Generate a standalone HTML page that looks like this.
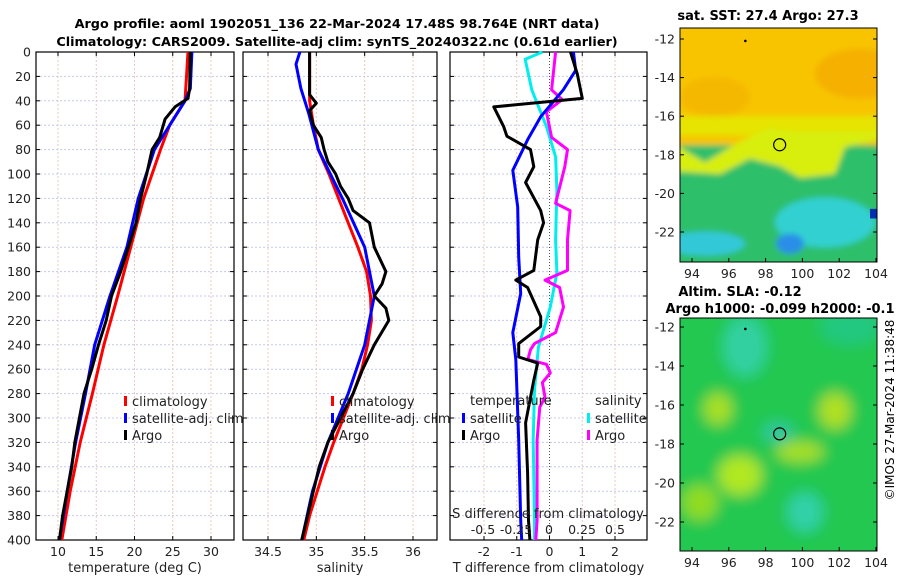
<!DOCTYPE html>
<html><head><meta charset="utf-8"><style>
body{margin:0;background:#fff;}
svg{display:block;font-family:"DejaVu Sans","Liberation Sans",sans-serif;}
</style></head><body>
<svg id="s" width="900" height="580" xmlns="http://www.w3.org/2000/svg">
<text x="337" y="28" text-anchor="middle" font-size="12.8" font-weight="bold">Argo profile: aoml 1902051_136 22-Mar-2024 17.48S 98.764E (NRT data)</text>
<text x="337" y="46" text-anchor="middle" font-size="12.8" font-weight="bold">Climatology: CARS2009. Satellite-adj clim: synTS_20240322.nc (0.61d earlier)</text>
<text x="768" y="20" text-anchor="middle" font-size="13" font-weight="bold">sat. SST: 27.4 Argo: 27.3</text>
<text x="740" y="296" text-anchor="middle" font-size="13" font-weight="bold">Altim. SLA: -0.12</text>
<text x="780" y="313" text-anchor="middle" font-size="13" font-weight="bold">Argo h1000: -0.099 h2000: -0.1</text>
<text transform="translate(894,410) rotate(-90)" text-anchor="middle" font-size="12">©IMOS 27-Mar-2024 11:38:48</text>
<g id="g"></g>
</svg>
<script>
// ---- data ----
const depthTicks=[0,20,40,60,80,100,120,140,160,180,200,220,240,260,280,300,320,340,360,380,400];
const tTicks=[10,15,20,25,30];
const sTicks=[34.5,35,35.5,36];
const dTTicks=[-2,-1,0,1,2];
const dSTicks=[-0.5,-0.25,0,0.25,0.5];
const climTDepth=[0,40,60,80,120,160,200,240,280,320,360,400];
const climT=[27.0,26.6,24.6,23.4,21.2,19.5,17.8,16.0,14.5,12.9,11.6,10.5];
const satTDepth=[0,30,40,80,120,160,200,240,280,320,360,400];
const satT=[27.5,27.3,26.6,22.6,20.5,19.0,16.8,14.8,13.6,12.3,11.2,10.2];
const argoTDepth=[0,30,38,45,55,70,80,100,120,140,160,180,200,220,240,260,280,300,320,340,360,380,400];
const argoT=[27.3,27.2,27.0,25.3,24.0,23.3,22.3,21.6,20.8,20.2,19.2,18.2,17.0,16.3,15.3,14.4,13.4,12.8,12.2,11.8,11.2,10.6,10.2];
const climSDepth=[0,40,60,80,100,120,140,160,180,200,220,240,260,280,300,320,340,360,380,400];
const climS=[34.93,34.93,34.97,35.02,35.13,35.23,35.33,35.43,35.52,35.56,35.57,35.53,35.47,35.38,35.28,35.18,35.09,35.01,34.93,34.87];
const satSDepth=[0,10,30,50,80,120,160,200,240,280,320,360,400];
const satS=[34.83,34.79,34.84,34.92,35.02,35.27,35.5,35.6,35.5,35.33,35.12,34.96,34.85];
const argoSDepth=[0,35,42,48,60,70,80,90,100,110,120,130,140,160,180,190,200,210,220,240,260,280,300,320,340,360,400];
const argoS=[34.93,34.93,35.0,34.93,34.97,35.05,35.08,35.12,35.2,35.25,35.33,35.38,35.55,35.6,35.72,35.68,35.6,35.72,35.75,35.6,35.48,35.38,35.25,35.12,35.03,34.97,34.85];
const dTSatDepth=[0,15,31,53,72,97,127,168,198,230,252,318,384,400];
const dTSat=[0.73,0.8,0.42,-0.27,-0.67,-1.12,-0.97,-0.94,-0.88,-1.12,-1.03,-0.94,-0.88,-0.85];
const dTArgoDepth=[0,18,38,45,61,69,80,94,107,130,140,154,179,187,193,217,225,239,250,255,269,283,304,345,384,400];
const dTArgo=[0.64,0.85,1.0,-1.7,-1.4,-1.3,-0.58,-0.48,-0.73,-0.27,-0.18,-0.36,-0.48,-1.03,-0.67,-0.27,-0.27,-0.94,-0.94,-0.36,-0.48,-0.58,-0.73,-0.67,-0.64,-0.6];
const dSSatDepth=[0,6,31,61,86,113,154,181,209,242,277,318,384,400];
const dSSat=[-0.05,-0.18,-0.13,-0.02,0.05,0.06,0.05,0.06,0.01,-0.08,-0.11,-0.12,-0.11,-0.11];
const dSArgoDepth=[0,31,39,49,70,80,94,124,130,154,179,187,193,209,230,239,244,252,256,263,271,283,291,318,384,400];
const dSArgo=[0.05,0.02,0.1,-0.02,0.02,0.14,0.12,0.05,0.16,0.14,0.14,-0.03,0.08,0.11,0.05,-0.11,-0.14,-0.16,-0.02,0.01,-0.05,-0.03,-0.07,-0.09,-0.09,-0.1];
const lonTicks=[94,96,98,100,102,104];
const latTicks=[-12,-14,-16,-18,-20,-22];
const floatLon=[98.764], floatLat=[-17.48];

const NS="http://www.w3.org/2000/svg", G=document.getElementById('g');
function el(t,a,p){const e=document.createElementNS(NS,t);for(const k in a)e.setAttribute(k,a[k]);(p||G).appendChild(e);return e;}
const Y0=52,Y1=540;
const yD=d=>Y0+d/400*(Y1-Y0);
function lin(d0,d1,r0,r1){return v=>r0+(v-d0)/(d1-d0)*(r1-r0);}
const panels=[
 {name:'temperature-panel',x0:36,x1:234,sx:lin(10,30,58,211),ticks:tTicks,xl:'temperature (deg C)'},
 {name:'salinity-panel',x0:243,x1:437,sx:lin(34.5,36,268,413),ticks:sTicks,xl:'salinity'},
 {name:'difference-panel',x0:450,x1:647,sx:lin(-2,2,484,615),ticks:dTTicks,xl:'T difference from climatology'}];
panels.forEach((p,i)=>{
 const g=el('g',{});
 
 
 depthTicks.forEach(d=>{el('line',{x1:p.x0,x2:p.x1,y1:yD(d),y2:yD(d),stroke:'#c4c8ea','stroke-width':1,'stroke-dasharray':'2,2'},g);
  el('line',{x1:p.x0,x2:p.x0+4,y1:yD(d),y2:yD(d),stroke:'#000'},g);el('line',{x1:p.x1,x2:p.x1-4,y1:yD(d),y2:yD(d),stroke:'#000'},g);});
 p.ticks.forEach(v=>{const x=p.sx(v);
  el('line',{x1:x,x2:x,y1:Y0,y2:Y1,stroke:i==2&&v==0?'#555':'#e8c8c0','stroke-width':1,'stroke-dasharray':i==2&&v==0?'1,2':'2,2'},g);
  el('line',{x1:x,x2:x,y1:Y1,y2:Y1-4,stroke:'#000'},g);el('line',{x1:x,x2:x,y1:Y0,y2:Y0+4,stroke:'#000'},g);
  const t=el('text',{x:x,y:556,'text-anchor':'middle','font-size':12.5,fill:'#222'},g);t.textContent=v;
  
  });
 el('rect',{x:p.x0,y:Y0,width:p.x1-p.x0,height:Y1-Y0,fill:'none',stroke:'#000','stroke-width':1.2},g);
 const xl=el('text',{x:(p.x0+p.x1)/2,y:572,'text-anchor':'middle','font-size':13,fill:'#222'},g);xl.textContent=p.xl;
 
 
});
depthTicks.forEach(d=>{const t=el('text',{x:31,y:yD(d)+4.5,'text-anchor':'end','font-size':12.5,fill:'#222'});t.textContent=d;
 
 });
function line(xs,ds,sx,col,name){const pts=xs.map((v,i)=>sx(v).toFixed(1)+','+yD(ds[i]).toFixed(1)).join(' ');
 const e=el('polyline',{points:pts,fill:'none',stroke:col,'stroke-width':3,'stroke-linejoin':'round'});
 
 }
const P=panels;
line(climT,climTDepth,P[0].sx,'#ff0000','climatology-temperature-line');
line(satT,satTDepth,P[0].sx,'#0000ff','satellite-temperature-line');
line(argoT,argoTDepth,P[0].sx,'#000','argo-temperature-line');
line(climS,climSDepth,P[1].sx,'#ff0000','climatology-salinity-line');
line(satS,satSDepth,P[1].sx,'#0000ff','satellite-salinity-line');
line(argoS,argoSDepth,P[1].sx,'#000','argo-salinity-line');
const sxS=lin(-0.5,0.5,483,615);
line(dSSat,dSSatDepth,sxS,'#00eeee','satellite-salinity-diff-line');
line(dSArgo,dSArgoDepth,sxS,'#ff00ff','argo-salinity-diff-line');
line(dTSat,dTSatDepth,P[2].sx,'#0000ff','satellite-temp-diff-line');
line(dTArgo,dTArgoDepth,P[2].sx,'#000','argo-temp-diff-line');
function txt(x,y,s,sz,name,anchor){const t=el('text',{x:x,y:y,'font-size':sz,fill:'#222','text-anchor':anchor||'start'});t.textContent=s;
 
 return t;}
txt(548,518,'S difference from climatology',13,'s-diff-axis-title','middle');
dSTicks.forEach(v=>txt(sxS(v),534,v,12.5,'s-diff-tick-label','middle'));
function leg(x,y,col,label,name){el('rect',{x:x,y:y-9,width:3,height:10,fill:col});txt(x+8,y+1,label,13,name);}
leg(124,405,'#ff0000','climatology','legend-climatology');
leg(124,422,'#0000ff','satellite-adj. clim','legend-satellite');
leg(124,439,'#000','Argo','legend-argo');
leg(331,405,'#ff0000','climatology','legend-climatology-s');
leg(331,422,'#0000ff','satellite-adj. clim','legend-satellite-s');
leg(331,439,'#000','Argo','legend-argo-s');
txt(470,405,'temperature',13,'legend-temperature-heading');
leg(462,422,'#0000ff','satellite','legend-temp-satellite');
leg(462,439,'#000','Argo','legend-temp-argo');
txt(595,405,'salinity',13,'legend-salinity-heading');
leg(587,422,'#00eeee','satellite','legend-sal-satellite');
leg(587,439,'#ff00ff','Argo','legend-sal-argo');
// maps
function map(y0,y1,t12,t22,kind){
 const x0=680,x1=877, mx=lin(94,104,692,876), my=lin(-12,-22,t12,t22);
 const g=el('g',{});
 
 
 const id='c'+kind;el('clipPath',{id:id},g);el('rect',{x:x0,y:y0,width:x1-x0,height:y1-y0},g.lastChild);
 const c=el('g',{'clip-path':'url(#'+id+')'},g);
 const f='f'+kind;const fl=el('filter',{id:f,x:'-20%',y:'-20%',width:'140%',height:'140%'},g);el('feGaussianBlur',{stdDeviation:kind=='sst'?3:7},fl);
 const b=el('g',{filter:'url(#'+f+')'},c);
 if(kind=='sst'){
  const Y=v=>my(v);
  el('rect',{x:x0-20,y:y0-20,width:240,height:300,fill:'#2fbf6a'},b);
  el('rect',{x:x0-20,y:y0-20,width:240,height:Y(-17.5)-y0+20,fill:'#f8c400'},b);
  el('ellipse',{cx:860,cy:Y(-13.8),rx:45,ry:25,fill:'#f5b000'},b);
  el('ellipse',{cx:715,cy:Y(-15),rx:35,ry:20,fill:'#f5b800'},b);
  el('rect',{x:x0-20,y:Y(-16),width:240,height:Y(-17)-Y(-16),fill:'#e6e400'},b);
  el('path',{d:`M${x0-20} ${Y(-17)} L705 ${Y(-18.4)} L740 ${Y(-17.3)} L770 ${Y(-16.6)} L790 ${Y(-16.8)} L880 ${Y(-16.8)} L880 ${Y(-17.2)} L845 ${Y(-17.6)} L835 ${Y(-19)} L800 ${Y(-19.2)} L780 ${Y(-18.6)} L750 ${Y(-18.2)} L720 ${Y(-19)} L${x0-20} ${Y(-18.8)} Z`,fill:'#d8ee10'},b);
  el('ellipse',{cx:825,cy:Y(-21.5),rx:50,ry:25,fill:'#30d0d0'},b);
  el('ellipse',{cx:705,cy:Y(-22.6),rx:40,ry:12,fill:'#30c8d8'},b);
  el('ellipse',{cx:790,cy:Y(-22.6),rx:14,ry:10,fill:'#2a8ee8'},b);
  el('rect',{x:x1-7,y:Y(-20.8),width:7,height:Y(-21.3)-Y(-20.8),fill:'#0030b0'},c);
 } else {
  el('rect',{x:x0-20,y:y0-20,width:240,height:300,fill:'#20c850'},b);
  el('ellipse',{cx:745,cy:my(-13),rx:22,ry:30,fill:'#30d0a0'},b);
  el('ellipse',{cx:850,cy:my(-12),rx:30,ry:18,fill:'#20c880'},b);
  el('ellipse',{cx:718,cy:my(-16.2),rx:14,ry:16,fill:'#a8e020'},b);
  el('ellipse',{cx:835,cy:my(-16.3),rx:16,ry:18,fill:'#b0e020'},b);
  el('ellipse',{cx:800,cy:my(-18.4),rx:24,ry:10,fill:'#a8e020'},b);
  el('ellipse',{cx:740,cy:my(-19.6),rx:22,ry:20,fill:'#b0e820'},b);
  el('ellipse',{cx:700,cy:my(-21),rx:18,ry:18,fill:'#90dc20'},b);
  el('ellipse',{cx:805,cy:my(-21.5),rx:18,ry:20,fill:'#30d0a8'},b);
  el('ellipse',{cx:778,cy:my(-17.4),rx:16,ry:10,fill:'#30c8a0'},b);
 }
 const pc=el('circle',{cx:mx(floatLon[0]),cy:my(floatLat[0]),r:6,fill:'none',stroke:'#000','stroke-width':1.2},g);
 
 
 el('circle',{cx:mx(96.9),cy:my(-12.1),r:1.3,fill:'#000'},g);
 el('rect',{x:x0,y:y0,width:x1-x0,height:y1-y0,fill:'none',stroke:'#000','stroke-width':1},g);
 lonTicks.forEach(v=>{const x=mx(v);el('line',{x1:x,x2:x,y1:y1,y2:y1-4,stroke:'#000'},g);
  const t=el('text',{x:x,y:y1+16,'text-anchor':'middle','font-size':12.5,fill:'#222'},g);t.textContent=v;
  
  });
 latTicks.forEach(v=>{const y=my(v);el('line',{x1:x0,x2:x0+4,y1:y,y2:y,stroke:'#000'},g);el('line',{x1:x1,x2:x1-4,y1:y,y2:y,stroke:'#000'},g);
  const t=el('text',{x:675,y:y+4.5,'text-anchor':'end','font-size':12.5,fill:'#222'},g);t.textContent=v;
  
  });
}
map(28,262,39,232,'sst');
map(318,551,327,522,'sla');
</script>
</body></html>
